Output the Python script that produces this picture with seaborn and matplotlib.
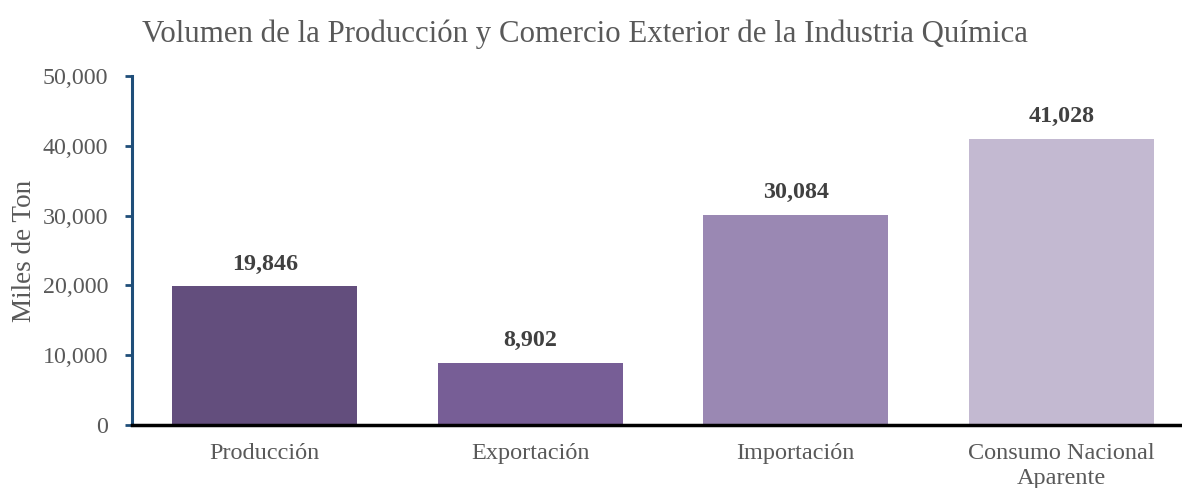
import matplotlib
matplotlib.use("Agg")
import matplotlib.pyplot as plt
import seaborn as sns
import pandas as pd
from matplotlib.ticker import FuncFormatter

categories = ["Producción", "Exportación", "Importación", "Consumo Nacional\nAparente"]
values = [19846, 8902, 30084, 41028]
colors = ["#634E7D", "#775E96", "#9A88B3", "#C3B9D1"]
yticks = [0, 10000, 20000, 30000, 40000, 50000]

sns.set_theme(style="white")
plt.rcParams['font.family'] = ['Liberation Serif', 'DejaVu Serif']

df = pd.DataFrame({"cat": categories, "val": values})

fig = plt.figure(figsize=(11.82, 4.88), dpi=100)
ax = fig.add_axes([132/1182, 1-425/488, 1062/1182, (425-76)/488])
sns.barplot(data=df, x="cat", y="val", hue="cat", palette=colors, width=0.697,
            saturation=1, legend=False, ax=ax, linewidth=0)

ax.set_ylim(0, 50000)
ax.set_xlim(-0.5, 3.5)
ax.set_yticks(yticks)
ax.yaxis.set_major_formatter(FuncFormatter(lambda v, p: f"{int(v):,}"))
ax.tick_params(axis='y', colors="#1F4E79", direction='out', length=5, width=2,
               labelsize=17.3, labelcolor="#595959", left=True, pad=12)
ax.tick_params(axis='x', length=0, labelsize=17.5, labelcolor="#595959", pad=13)
for lbl in ax.get_xticklabels():
    lbl.set_linespacing(1.25)

for s in ["top", "right"]:
    ax.spines[s].set_visible(False)
ax.spines["left"].set_color("#1F4E79")
ax.spines["left"].set_linewidth(2.2)
ax.spines["bottom"].set_color("black")
ax.spines["bottom"].set_linewidth(2.5)

ax.set_xlabel("")
ax.set_ylabel("Miles de Ton", fontsize=19.5, color="#595959", labelpad=0)
ax.yaxis.set_label_coords(-(132-37)/1062, 0.5)

for i, v in enumerate(values):
    ax.text(i, v + 1700, f"{v:,}", ha="center", va="bottom", fontsize=17.3,
            fontweight="bold", color="#404040")

fig.text(585/1182, 1-34/488, "Volumen de la Producción y Comercio Exterior de la Industria Química",
         ha="center", va="center", fontsize=22.2, color="#595959")

fig.savefig("out.png", dpi=100)
